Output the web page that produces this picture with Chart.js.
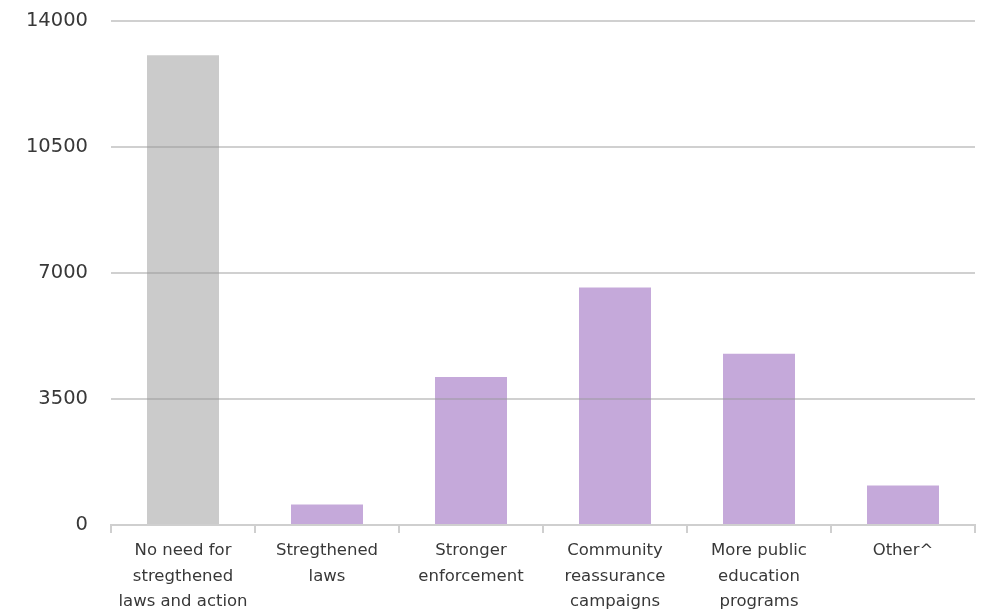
<!DOCTYPE html>
<html>
<head>
<meta charset="utf-8">
<script src="https://cdn.jsdelivr.net/npm/chart.js@4"></script>
<style>
    html, body { margin: 0; padding: 0; background: #fff; }
    #wrap { width: 984px; height: 612px; position: relative; }
</style>
</head>
<body>
<div id="wrap"><canvas id="chart"></canvas></div>
<script>

const categories = [
    ["No need for", "stregthened", "laws and action"],
    ["Stregthened", "laws"],
    ["Stronger", "enforcement"],
    ["Community", "reassurance", "campaigns"],
    ["More public", "education", "programs"],
    ["Other^"]
];

const responses = [13050, 570, 4110, 6600, 4760, 1100];

const barColors = ["#cbcbcb", "#c5a9da", "#c5a9da", "#c5a9da", "#c5a9da", "#c5a9da"];

const yTicks = [0, 3500, 7000, 10500, 14000];


const ctx = document.getElementById("chart");

new Chart(ctx, {

    type: "bar",

    data: {
        labels: categories,
        datasets: [{
            data: responses,
            backgroundColor: barColors,
            borderWidth: 0,
            categoryPercentage: 1,
            barPercentage: 0.5
        }]
    },

    options: {
        responsive: true,
        maintainAspectRatio: false,
        animation: false,
        layout: {
            padding: { top: 21, right: 9, left: 0, bottom: 0 }
        },
        plugins: {
            legend: { display: false },
            tooltip: { enabled: false }
        },
        scales: {

            x: {
                offset: true,
                grid: {
                    offset: true,
                    drawOnChartArea: false,
                    drawTicks: true,
                    tickLength: 8,
                    color: "#cfcfcf",
                    lineWidth: 2
                },
                border: { display: true, color: "#cfcfcf", width: 2, z: 1 },
                ticks: {
                    color: "#383838",
                    padding: 5,
                    maxRotation: 0,
                    autoSkip: false,
                    font: { family: "DejaVu Sans", size: 16.5, lineHeight: 1.55 }
                },
                afterFit: scale => { scale.height = 87; }
            },

            y: {
                min: 0,
                max: 14000,
                afterBuildTicks: scale => {
                    scale.ticks = yTicks.map(v => ({ value: v }));
                },
                grid: {
                    z: 1,
                    drawTicks: true,
                    tickLength: 23,
                    tickColor: "rgba(0,0,0,0)",
                    color: ctx => ctx.tick && ctx.tick.value === 0 ? "rgba(0,0,0,0)" : "rgba(150,150,150,0.45)",
                    lineWidth: 2
                },
                border: { display: false },
                ticks: {
                    color: "#383838",
                    padding: 0,
                    callback: v => String(v),
                    font: { family: "DejaVu Sans", size: 19.5 }
                },
                afterFit: scale => { scale.width = 111; }
            }

        }
    }

});

</script>
</body>
</html>
